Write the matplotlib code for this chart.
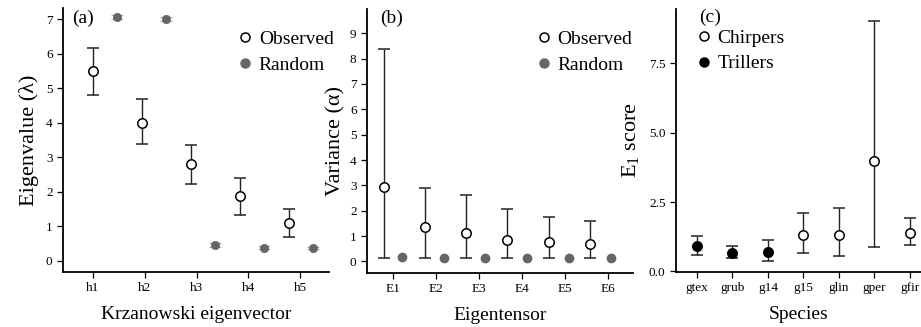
import numpy as np
import matplotlib
matplotlib.use("Agg")
import matplotlib.pyplot as plt
from matplotlib.lines import Line2D

plt.rcParams['font.family'] = ['Liberation Serif', 'DejaVu Serif']
plt.rcParams['mathtext.fontset'] = 'custom'
plt.rcParams['mathtext.rm'] = 'Liberation Serif'

# (a) Krzanowski eigenvectors
a_labels = ['h1', 'h2', 'h3', 'h4', 'h5']
a_obs = [5.5, 4.0, 2.8, 1.87, 1.1]
a_obs_lo = [4.8, 3.37, 2.22, 1.33, 0.7]
a_obs_hi = [6.17, 4.7, 3.35, 2.4, 1.5]
a_rnd = [7.07, 7.02, 0.45, 0.38, 0.36]
a_rnd_lo = [7.02, 6.96, 0.39, 0.34, 0.33]
a_rnd_hi = [7.12, 7.07, 0.5, 0.42, 0.39]

# (b) Eigentensors
b_labels = ['E1', 'E2', 'E3', 'E4', 'E5', 'E6']
b_obs = [2.92, 1.35, 1.1, 0.85, 0.75, 0.68]
b_obs_lo = [0.15, 0.15, 0.15, 0.15, 0.15, 0.15]
b_obs_hi = [8.38, 2.9, 2.63, 2.05, 1.77, 1.6]
b_rnd = [0.16, 0.15, 0.15, 0.15, 0.15, 0.15]

# (c) species E1 scores
c_labels = ['gtex', 'grub', 'g14', 'g15', 'glin', 'gper', 'gfir']
c_group = ['T', 'T', 'T', 'C', 'C', 'C', 'C']
c_val = [0.92, 0.68, 0.71, 1.31, 1.32, 3.97, 1.4]
c_lo = [0.6, 0.47, 0.37, 0.67, 0.55, 0.89, 0.95]
c_hi = [1.29, 0.92, 1.15, 2.09, 2.3, 9.02, 1.91]

W, H = 921, 327
fig = plt.figure(figsize=(W / 100, H / 100), dpi=100)


def px_axes(l, r, t, b):
    return fig.add_axes([l / W, 1 - b / H, (r - l) / W, (b - t) / H])


def style(ax):
    for s in ['top', 'right']:
        ax.spines[s].set_visible(False)
    for s in ['left', 'bottom']:
        ax.spines[s].set_linewidth(1.3)
    ax.tick_params(direction='out', length=4.5, width=0.9, labelsize=9.5, pad=3)


def errs(v, lo, hi):
    v = np.array(v)
    return [v - np.array(lo), np.array(hi) - v]


OBS = dict(fmt='o', ms=6.8, mfc='white', mec='black', mew=1.1,
           ecolor='#222222', elinewidth=1.0, capsize=4.3, capthick=1.0)
RND = dict(fmt='o', ms=6, mfc='#666666', mec='#666666', mew=0.5,
           ecolor='#888888', elinewidth=1.0, capsize=4.0, capthick=1.0)

leg_kw = dict(frameon=False, fontsize=14, handlelength=0.8, handletextpad=0.3,
              borderpad=0, borderaxespad=0, labelspacing=0.42, loc='upper left')

obs_handle = Line2D([], [], ls='none', marker='o', ms=6.5, mfc='white', mec='black', mew=1.1)
rnd_handle = Line2D([], [], ls='none', marker='o', ms=6.5, mfc='#666666', mec='#666666')

# ---- panel (a)
ax1 = px_axes(63, 329, 8, 272)
style(ax1)
xa = np.arange(len(a_labels))
ax1.errorbar(1 + 0.948 * xa, a_obs, yerr=errs(a_obs, a_obs_lo, a_obs_hi), **OBS, zorder=3)
ax1.errorbar(1.465 + 0.948 * xa, a_rnd, yerr=errs(a_rnd, a_rnd_lo, a_rnd_hi), **RND, zorder=3)
ax1.set_xticks(1 + xa)
ax1.set_xticklabels(a_labels)
ax1.set_xlim(0.42, 5.56)
ax1.set_ylim(-0.33, 7.33)
ax1.set_yticks(range(0, 8))
ax1.set_xlabel('Krzanowski eigenvector', fontsize=14, labelpad=8)
ax1.set_ylabel('Eigenvalue (λ)', fontsize=16, labelpad=5)
ax1.text(0.034, 0.962, '(a)', transform=ax1.transAxes, fontsize=14, va='center', ha='left')
ax1.legend([obs_handle, rnd_handle], ['Observed', 'Random'],
           bbox_to_anchor=(0.656, 0.915), **leg_kw)

# ---- panel (b)
ax2 = px_axes(367, 633, 9, 273)
style(ax2)
xb = np.arange(len(b_labels))
ax2.errorbar(0.79 + 0.958 * xb, b_obs, yerr=errs(b_obs, b_obs_lo, b_obs_hi), **OBS, zorder=3)
ax2.plot(1.21 + 0.97 * xb, b_rnd, 'o', ms=6, color='#666666', zorder=3)
ax2.set_xticks(1 + xb)
ax2.set_xticklabels(b_labels)
ax2.set_xlim(0.40, 6.58)
ax2.set_ylim(-0.46, 9.96)
ax2.set_yticks(range(0, 10))
ax2.set_xlabel('Eigentensor', fontsize=14, labelpad=8)
ax2.set_ylabel('Variance (α)', fontsize=16, labelpad=3)
ax2.text(0.049, 0.966, '(b)', transform=ax2.transAxes, fontsize=14, va='center', ha='left')
ax2.legend([obs_handle, rnd_handle], ['Observed', 'Random'],
           bbox_to_anchor=(0.635, 0.92), **leg_kw)

# ---- panel (c)
ax3 = px_axes(676, 921, 9, 272)
style(ax3)
xc = 1 + np.arange(len(c_labels))
for x, g, v, lo, hi in zip(xc, c_group, c_val, c_lo, c_hi):
    kw = dict(OBS)
    if g == 'T':
        kw.update(mfc='black', mec='black')
    ax3.errorbar([x], [v], yerr=[[v - lo], [hi - v]], **kw, zorder=3)
ax3.set_xticks(xc)
ax3.set_xticklabels(c_labels)
ax3.set_xlim(0.41, 7.31)
ax3.set_ylim(-0.02, 9.45)
ax3.set_yticks([0, 2.5, 5.0, 7.5])
ax3.set_yticklabels(['0.0', '2.5', '5.0', '7.5'])
ax3.set_xlabel('Species', fontsize=14, labelpad=8)
ax3.set_ylabel(r'E$_{\mathregular{1}}$ score', fontsize=16, labelpad=5)
ax3.text(0.094, 0.97, '(c)', transform=ax3.transAxes, fontsize=14, va='center', ha='left')
chirp_handle = Line2D([], [], ls='none', marker='o', ms=6.5, mfc='white', mec='black', mew=1.1)
trill_handle = Line2D([], [], ls='none', marker='o', ms=6.5, mfc='black', mec='black')
ax3.legend([chirp_handle, trill_handle], ['Chirpers', 'Trillers'],
           bbox_to_anchor=(0.082, 0.924), **leg_kw)

fig.savefig('out.png', dpi=100)
